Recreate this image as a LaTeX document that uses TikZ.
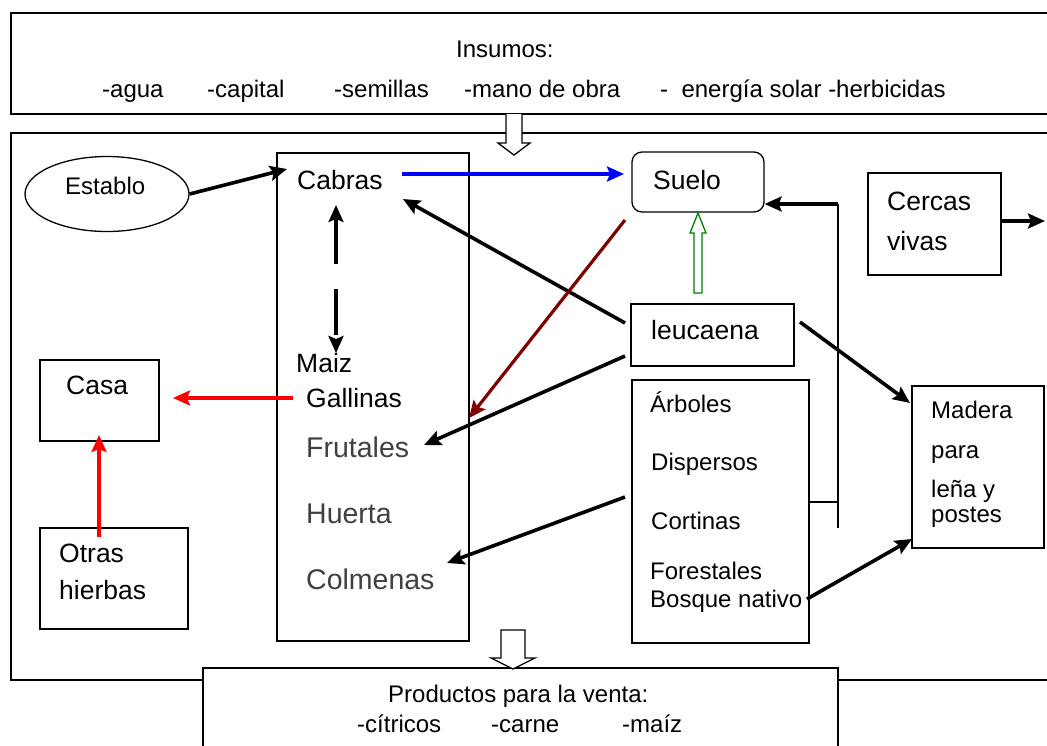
\documentclass[tikz,border=0pt]{standalone}
\usepackage{fontspec}
\setmainfont{Liberation Sans}
\usepackage{tikz}
\usetikzlibrary{arrows.meta}
\usetikzlibrary{shapes.geometric}
\definecolor{darkbrown}{RGB}{128,0,0}
\definecolor{leafgreen}{RGB}{0,128,0}
\tikzset{
	boxstyle/.style={rectangle,draw=black,line width=1.3pt,inner sep=0pt},
	roundstyle/.style={rectangle,rounded corners=10pt,draw=black,line width=1.3pt,inner sep=0pt},
	ovalstyle/.style={ellipse,draw=black,line width=1.3pt,inner sep=0pt},
	labelstyle/.style={anchor=base west,inner sep=0pt,font=\fontsize{26.5}{30}\selectfont},
	smallstyle/.style={anchor=base west,inner sep=0pt,font=\fontsize{24}{28}\selectfont},
	greystyle/.style={anchor=base west,inner sep=0pt,text=black!75,font=\fontsize{28.5}{32}\selectfont},
	flowstyle/.style={line width=3.6pt,-{Stealth[length=17pt,width=15pt,inset=3pt]}},
	hollowstyle/.style={line width=1.3pt,fill=white}
}

\begin{document}
\begin{tikzpicture}[x=1pt,y=-1pt]
		\useasboundingbox (0,0) rectangle (1047,745);
		\clip (0,0) rectangle (1047,745);
		% frames
		\node[boxstyle,minimum width=1049pt,minimum height=101pt] (insumosbox) at (535.5,63.5) {};
		\node[boxstyle,minimum width=1049pt,minimum height=547pt] (finca) at (535.5,406.5) {};
		\node[boxstyle,fill=white,minimum width=635pt,minimum height=92pt] (ventabox) at (520.5,714) {};
		\node[smallstyle] (insumos) at (456,57) {Insumos:};
		\node[smallstyle] (agua) at (102,97) {-agua};
		\node[smallstyle] (capital) at (207,97) {-capital};
		\node[smallstyle] (semillas) at (334,97) {-semillas};
		\node[smallstyle] (mano) at (464,97) {-mano de obra};
		\node[smallstyle] (energia) at (660,97) {-\ \ energía solar -herbicidas};
		\node[smallstyle] (productos) at (388,702) {Productos para la venta:};
		\node[smallstyle] (citricos) at (357,732) {-cítricos};
		\node[smallstyle] (carne) at (491,732) {-carne};
		\node[smallstyle] (maizv) at (622,732) {-maíz};
		% boxes
		\node[ovalstyle,minimum width=164pt,minimum height=75pt] (establo) at (107,194) {};
		\node[boxstyle,minimum width=192pt,minimum height=488pt] (animales) at (373,397) {};
		\node[roundstyle,minimum width=132pt,minimum height=60pt] (suelo) at (698,182) {};
		\node[boxstyle,minimum width=133pt,minimum height=102pt] (cercas) at (934.5,224) {};
		\node[boxstyle,minimum width=163pt,minimum height=62pt] (leucaena) at (712.5,335) {};
		\node[boxstyle,minimum width=177pt,minimum height=263pt] (arboles) at (720.5,511.5) {};
		\node[boxstyle,minimum width=132pt,minimum height=162pt] (madera) at (978,467) {};
		\node[boxstyle,minimum width=119pt,minimum height=81pt] (casa) at (99.5,400.5) {};
		\node[boxstyle,minimum width=148pt,minimum height=101pt] (otras) at (114,578.5) {};
		% texts
		\node[smallstyle] (establot) at (65,194) {Establo};
		\node[labelstyle] (cabras) at (297,189) {Cabras};
		\node[labelstyle] (maiz) at (296,372) {Maiz};
		\node[labelstyle] (gallinas) at (306,407) {Gallinas};
		\node[greystyle] (frutales) at (306,457) {Frutales};
		\node[greystyle] (huerta) at (306,523) {Huerta};
		\node[greystyle] (colmenas) at (306,589) {Colmenas};
		\node[labelstyle] (suelot) at (653,189) {Suelo};
		\node[labelstyle] (cercast) at (887,210) {Cercas};
		\node[labelstyle] (vivast) at (887,250) {vivas};
		\node[labelstyle] (leucaenat) at (651,339) {leucaena};
		\node[smallstyle] (arbolest) at (650,412) {Árboles};
		\node[smallstyle] (dispersos) at (651,470) {Dispersos};
		\node[smallstyle] (cortinas) at (651,529) {Cortinas};
		\node[smallstyle] (forestales) at (650,579) {Forestales};
		\node[smallstyle] (bosque) at (650,607) {Bosque nativo};
		\node[smallstyle] (maderat) at (931,418) {Madera};
		\node[smallstyle] (parat) at (931,458) {para};
		\node[smallstyle] (lenat) at (931,497) {leña y};
		\node[smallstyle] (postest) at (931,522) {postes};
		\node[labelstyle] (casat) at (66,394) {Casa};
		\node[labelstyle] (otrast) at (59,562) {Otras};
		\node[labelstyle] (hierbast) at (59,599) {hierbas};
		% arrow ends
		\coordinate (cabrasin) at (287,169);
		\coordinate (cabrasout) at (402,174);
		\coordinate (sueloin) at (624,174);
		\coordinate (cabrasup) at (336,205);
		\coordinate (maizdown) at (336,353);
		\coordinate (leucout) at (625,323);
		\coordinate (cabrasback) at (403,199);
		\coordinate (sueloout) at (625,220);
		\coordinate (frutalesin) at (469,418);
		\coordinate (leucdown) at (625,356);
		\coordinate (frutalesend) at (424,445);
		\coordinate (leucright) at (800,322);
		\coordinate (maderatop) at (910,403);
		\coordinate (bosqueout) at (807,599);
		\coordinate (maderalow) at (912,539);
		\coordinate (arbolesout) at (625,497);
		\coordinate (colmenasin) at (447,563);
		\coordinate (gallinasout) at (293,398);
		\coordinate (casain) at (173,398);
		\coordinate (otrasout) at (99,537);
		\coordinate (casalow) at (99,435);
		\coordinate (cercasout) at (1045,221);
		\coordinate (joint) at (838,502);
		\coordinate (jointlow) at (838,528);
		\coordinate (jointtop) at (838,204);
		% connectors
		\draw[flowstyle] (establo.east) -- (cabrasin);
		\draw[flowstyle,blue] (cabrasout) -- (sueloin);
		\draw[line width=3.2pt,{Stealth[length=17pt,width=15pt,inset=3pt]}-{Stealth[length=17pt,width=15pt,inset=3pt]},dash pattern=on 46pt off 25pt] (cabrasup) -- (maizdown);
		\draw[flowstyle] (leucout) -- (cabrasback);
		\draw[flowstyle,darkbrown,line width=3.2pt] (sueloout) -- (frutalesin);
		\draw[flowstyle] (leucdown) -- (frutalesend);
		\draw[flowstyle] (leucright) -- (maderatop);
		\draw[flowstyle] (bosqueout) -- (maderalow);
		\draw[flowstyle] (arbolesout) -- (colmenasin);
		\draw[flowstyle,red] (gallinasout) -- (casain);
		\draw[flowstyle,red] (otrasout) -- (casalow);
		\draw[flowstyle] (cercas.east |- cercasout) -- (cercasout);
		\draw[line width=1.5pt] (arboles.east |- joint) -- (joint);
		\draw[line width=2pt] (jointlow) -- (jointtop);
		\draw[flowstyle,line width=3.2pt] (jointtop) -- (suelo.east |- jointtop);
		% hollow arrows
		\draw[hollowstyle,draw=leafgreen] (694,293) -- (694,233) -- (690,233) -- (698,213) -- (706,233) -- (702,233) -- (702,293) -- cycle;
		\draw[hollowstyle] (506,114) -- (506,143) -- (498,143) -- (514,155) -- (530,143) -- (522,143) -- (522,114);
		\draw[hollowstyle] (501,630) -- (501,658) -- (491,658) -- (513,669) -- (535,658) -- (525,658) -- (525,630) -- cycle;
		\end{tikzpicture}
\end{document}
